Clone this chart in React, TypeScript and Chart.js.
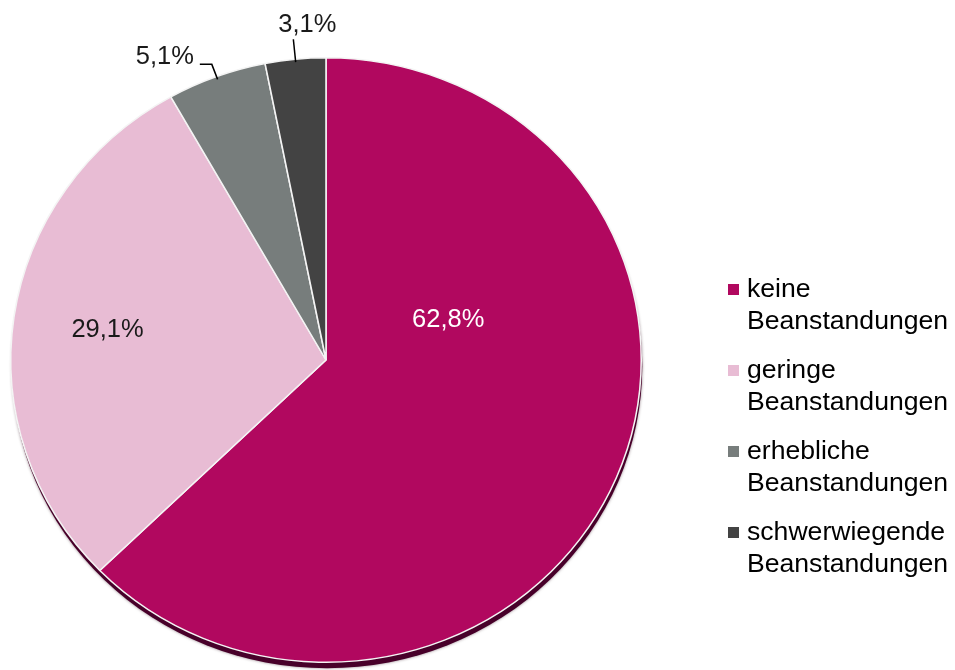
import React, { useEffect, useRef } from 'react';
import Chart from 'chart.js/auto';

const categories = ['keine Beanstandungen', 'geringe Beanstandungen', 'erhebliche Beanstandungen', 'schwerwiegende Beanstandungen'];
const legendLines = [
    ['keine', 'Beanstandungen'],
    ['geringe', 'Beanstandungen'],
    ['erhebliche', 'Beanstandungen'],
    ['schwerwiegende', 'Beanstandungen'],
];
const shares = [62.8, 29.1, 5.1, 3.1];

const sliceColors = ['#B1085F', '#E8BCD4', '#777D7C', '#434343'];
const LABEL_FONT = '25.5px "Liberation Sans", Arial, sans-serif';
const LEGEND_FONT = '26.6px "Liberation Sans", Arial, sans-serif';
// the pie is drawn a little wider than tall, like the slightly tilted original
const X_STRETCH = 1.043;

const fmt = (v: number) => v.toFixed(1).replace('.', ',') + '%';

// how each percentage label is placed (inside the slice, or outside with a leader line)
const labelPlacement: any[] = [
    { inside: true, angleDeg: 71, dist: 0.41, color: '#FFFFFF' },
    { inside: true, dist: 0.70, color: '#1A1A1A' },
    { inside: false, ext: 13, tail: -12, color: '#1A1A1A' },
    { inside: false, ext: 20, tail: 0, color: '#1A1A1A' },
];

// point on the (stretched) pie for a canvas angle a and a radius
const onPie = (arc: any, a: number, r: number) => ({
    x: arc.x + Math.cos(a) * r * X_STRETCH,
    y: arc.y + Math.sin(a) * r,
});

const stretchPlugin = {
    id: 'stretchAndShadow',
    beforeDatasetsDraw(chart: any) {
        const arc = chart.getDatasetMeta(0).data[0];
        const { ctx } = chart;
        ctx.save();
        if (!arc) return;
        ctx.translate(arc.x, arc.y);
        ctx.scale(X_STRETCH, 1);
        ctx.translate(-arc.x, -arc.y);
        ctx.save();
        ctx.fillStyle = '#48002A';
        ctx.shadowColor = 'rgba(40,0,20,0.5)';
        ctx.shadowBlur = 3;
        ctx.beginPath();
        ctx.arc(arc.x + 1, arc.y + 6, arc.outerRadius, 0, Math.PI * 2);
        ctx.fill();
        ctx.restore();
    },
    afterDatasetsDraw(chart: any) {
        chart.ctx.restore();
    },
};

const labelPlugin = {
    id: 'sliceLabels',
    afterDatasetsDraw(chart: any) {
        const { ctx } = chart;
        const meta = chart.getDatasetMeta(0);
        ctx.save();
        ctx.font = LABEL_FONT;
        meta.data.forEach((arc: any, i: number) => {
            const p = labelPlacement[i];
            const r = arc.outerRadius;
            ctx.fillStyle = p.color;
            if (p.inside) {
                const a = p.angleDeg !== undefined
                    ? (p.angleDeg - 90) * Math.PI / 180
                    : (arc.startAngle + arc.endAngle) / 2;
                const pt = onPie(arc, a, r * p.dist);
                ctx.textAlign = 'center';
                ctx.textBaseline = 'middle';
                ctx.fillText(fmt(shares[i]), pt.x, pt.y);
            } else {
                const a = (arc.startAngle + arc.endAngle) / 2;
                const p1 = onPie(arc, a, r - 3);
                const p2 = onPie(arc, a, r + p.ext);
                const x3 = p2.x + p.tail;
                ctx.strokeStyle = '#000000';
                ctx.lineWidth = 1.5;
                ctx.beginPath();
                ctx.moveTo(p1.x, p1.y);
                ctx.lineTo(p2.x, p2.y);
                ctx.lineTo(x3, p2.y);
                ctx.stroke();
                if (p.tail < 0) {
                    ctx.textAlign = 'right';
                    ctx.textBaseline = 'middle';
                    ctx.fillText(fmt(shares[i]), x3 - 6, p2.y - 7);
                } else {
                    ctx.textAlign = 'center';
                    ctx.textBaseline = 'bottom';
                    ctx.fillText(fmt(shares[i]), p2.x + 14, p2.y - 2);
                }
            }
        });
        ctx.restore();
    },
};

const legendPlugin = {
    id: 'sideLegend',
    afterDraw(chart: any) {
        const { ctx } = chart;
        const left = 728;
        const top = 290;
        const lineGap = 32;
        const itemGap = 81;
        ctx.save();
        ctx.font = LEGEND_FONT;
        ctx.textAlign = 'left';
        ctx.textBaseline = 'middle';
        legendLines.forEach((lines, i) => {
            const y = top + i * itemGap;
            ctx.fillStyle = sliceColors[i];
            ctx.fillRect(left, y - 6, 11, 11);
            ctx.fillStyle = '#000000';
            lines.forEach((t, j) => ctx.fillText(t, left + 19, y + j * lineGap));
        });
        ctx.restore();
    },
};

const App: React.FC = () => {
    const canvasRef = useRef<HTMLCanvasElement>(null);

    useEffect(() => {
        document.body.style.margin = '0';
        if (!canvasRef.current) return;
        const chart = new Chart(canvasRef.current, {
            type: 'pie',
            data: {
                labels: categories,
                datasets: [{
                    data: shares,
                    backgroundColor: sliceColors,
                    borderColor: '#F4F4F4',
                    borderWidth: 1.5,
                    clip: false,
                }],
            },
            options: {
                responsive: false,
                animation: false,
                layout: { padding: { top: 57, bottom: 7, left: 23, right: 326 } },
                plugins: {
                    legend: { display: false },
                    tooltip: { enabled: false },
                },
            },
            plugins: [stretchPlugin, labelPlugin, legendPlugin],
        });
        return () => chart.destroy();
    }, []);

    return (
        <div style={{ width: 955, height: 670, background: '#FFFFFF' }}>
            <canvas ref={canvasRef} width={955} height={670} style={{ display: 'block' }} />
        </div>
    );
};

export default App;
